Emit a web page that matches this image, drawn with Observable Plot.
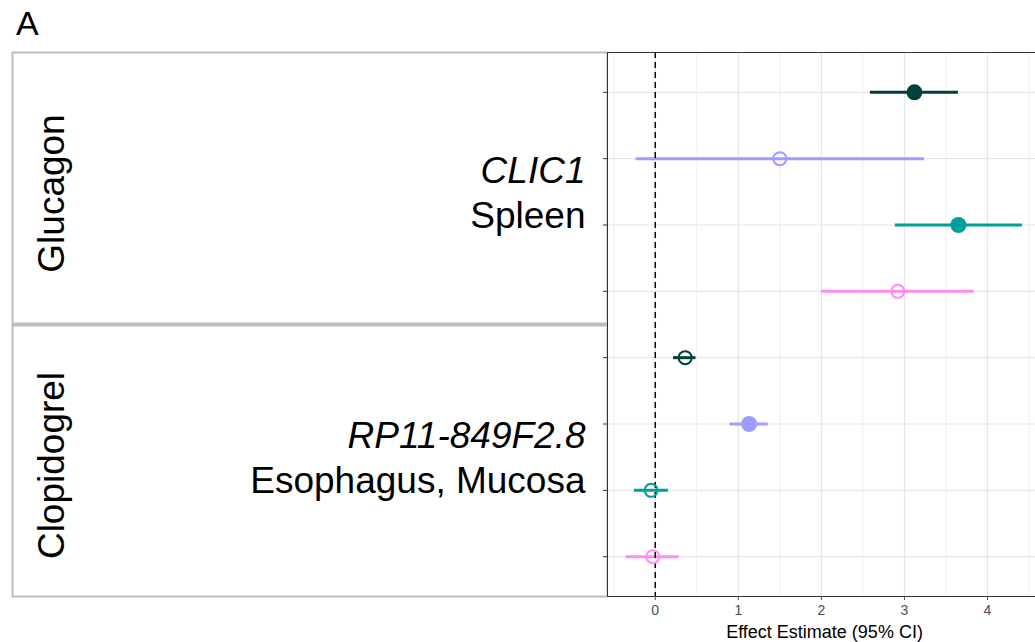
<!DOCTYPE html>
<html>
<head>
<meta charset="utf-8">
<script src="https://cdn.jsdelivr.net/npm/d3@7"></script>
<script src="https://cdn.jsdelivr.net/npm/@observablehq/plot@0.6"></script>
<style>
  html, body { margin: 0; padding: 0; background: white; overflow: hidden; }
  #wrap { position: relative; width: 1035px; height: 642px; overflow: hidden; font-family: "Liberation Sans", Arial, sans-serif; }
  #tag { position: absolute; left: 16px; top: 6px; font-size: 34px; line-height: 34px; color: #000; }
  #left { position: absolute; left: 0; top: 0; width: 607px; height: 642px; }
  #right { position: absolute; left: 597px; top: 0; width: 444px; height: 642px; }
  #left svg, #right svg { max-width: none !important; }
</style>
</head>
<body>
<div id="wrap">
  <div id="left"></div>
  <div id="right"></div>
  <div id="tag">A</div>
</div>
<script>
// ---- data ----
const drugs = ["Glucagon", "Clopidogrel"];
const genes = ["CLIC1", "RP11-849F2.8"];
const tissues = ["Spleen", "Esophagus, Mucosa"];
const rowDrug = ["Glucagon", "Glucagon", "Glucagon", "Glucagon",
                 "Clopidogrel", "Clopidogrel", "Clopidogrel", "Clopidogrel"];
const seriesNames = ["Series 1", "Series 2", "Series 3", "Series 4"];
const rowSeries = ["Series 1", "Series 2", "Series 3", "Series 4",
                   "Series 1", "Series 2", "Series 3", "Series 4"];
const estimate = [3.12, 1.50, 3.65, 2.92, 0.36, 1.13, -0.05, -0.03];
const lower    = [2.59, -0.23, 2.89, 2.00, 0.22, 0.90, -0.25, -0.35];
const upper    = [3.65, 3.24, 4.42, 3.84, 0.49, 1.36, 0.16, 0.29];
const filled   = [true, false, true, false, false, true, false, false];
const seriesColors = ["#00403a", "#a09cff", "#00a09a", "#ff8cf8"];
const xTicks = [0, 1, 2, 3, 4];
const xMinorTicks = [-0.5, 0.5, 1.5, 2.5, 3.5, 4.5];
const xDomain = [-0.575, 4.65];
const xLabel = "Effect Estimate (95% CI)";

// ---- table built from arrays ----
const rows = estimate.map((e, i) => ({
  row: i + 1, drug: rowDrug[i], series: rowSeries[i],
  est: e, lo: lower[i], hi: upper[i], filled: filled[i]
}));
const nRows = rows.length;
const yDomain = [1 - 0.6, nRows + 0.6];
const rowTicks = rows.map(d => d.row);
const groupsBase = drugs.map((g, i) => {
  const r = rows.filter(d => d.drug === g).map(d => d.row);
  return { drug: g, gene: genes[i], tissue: tissues[i], mid: d3.mean(r), end: d3.max(r) + 0.5 };
});
const dividers = groupsBase.slice(0, -1).map(g => g.end);
const bounds = [yDomain[0], ...dividers, yDomain[1]];
const groups = groupsBase.map((g, i) => ({ ...g, boxMid: (bounds[i] + bounds[i + 1]) / 2 }));

const H = 642, MT = 52, MB = 46;
const font = "'Liberation Sans', Arial, sans-serif";

// ---- left table panel ----
const left = Plot.plot({
  width: 607, height: H,
  marginLeft: 12, marginRight: 0, marginTop: MT, marginBottom: MB,
  style: { fontFamily: font, background: "transparent", maxWidth: "none" },
  y: { domain: yDomain, reverse: true, axis: null },
  marks: [
    Plot.frame({ stroke: "#bdbdbd", strokeWidth: 2 }),
    Plot.ruleY(dividers, { stroke: "#bdbdbd", strokeWidth: 4 }),
    Plot.text(groups, { y: "boxMid", text: "drug", frameAnchor: "left", textAnchor: "middle",
      lineAnchor: "middle", dx: 40, dy: 5, rotate: -90, fontSize: 37, fill: "#000" }),
    Plot.text(groups, { y: "mid", text: "gene", frameAnchor: "right", textAnchor: "end",
      dx: -22, dy: -21, fontSize: 37, fontStyle: "italic", fill: "#000" }),
    Plot.text(groups, { y: "mid", text: "tissue", frameAnchor: "right", textAnchor: "end",
      dx: -22, dy: 24, fontSize: 37, fill: "#000" })
  ]
});
document.getElementById("left").appendChild(left);

// ---- right forest panel ----
const right = Plot.plot({
  width: 444, height: H,
  marginLeft: 10, marginRight: 0, marginTop: MT, marginBottom: MB,
  style: { fontFamily: font, background: "transparent", maxWidth: "none" },
  x: { domain: xDomain },
  y: { domain: yDomain, reverse: true },
  color: { domain: seriesNames, range: seriesColors },
  marks: [
    Plot.gridX({ ticks: xMinorTicks, stroke: "#ebebeb", strokeOpacity: 1, strokeWidth: 0.8 }),
    Plot.gridX({ ticks: xTicks, stroke: "#e6e6e6", strokeOpacity: 1, strokeWidth: 1.2 }),
    Plot.gridY({ ticks: rowTicks, stroke: "#e6e6e6", strokeOpacity: 1, strokeWidth: 1.2 }),
    Plot.ruleY(rows, { y: "row", x1: "lo", x2: "hi", stroke: "series", strokeWidth: 3 }),
    Plot.ruleX([0], { stroke: "#000", strokeWidth: 1.5, strokeDasharray: "6,4" }),
    Plot.dot(rows.filter(d => d.filled), { x: "est", y: "row", r: 8, fill: "series", stroke: "none" }),
    Plot.dot(rows.filter(d => !d.filled), { x: "est", y: "row", r: 6.5, fill: "none", stroke: "series", strokeWidth: 2 }),
    Plot.frame({ stroke: "#333", strokeWidth: 1 }),
    Plot.axisX({ ticks: xTicks, tickFormat: d => String(d), tickSize: 4, tickPadding: 5,
      fontSize: 14, color: "#4d4d4d", label: null }),
    Plot.axisY({ ticks: rowTicks, tickSize: 4, tickFormat: () => "", color: "#333", label: null }),
    Plot.text([xLabel], { text: d => d, frameAnchor: "bottom", dy: 41, lineAnchor: "bottom",
      fontSize: 18, fill: "#000" })
  ]
});
document.getElementById("right").appendChild(right);
</script>
</body>
</html>
